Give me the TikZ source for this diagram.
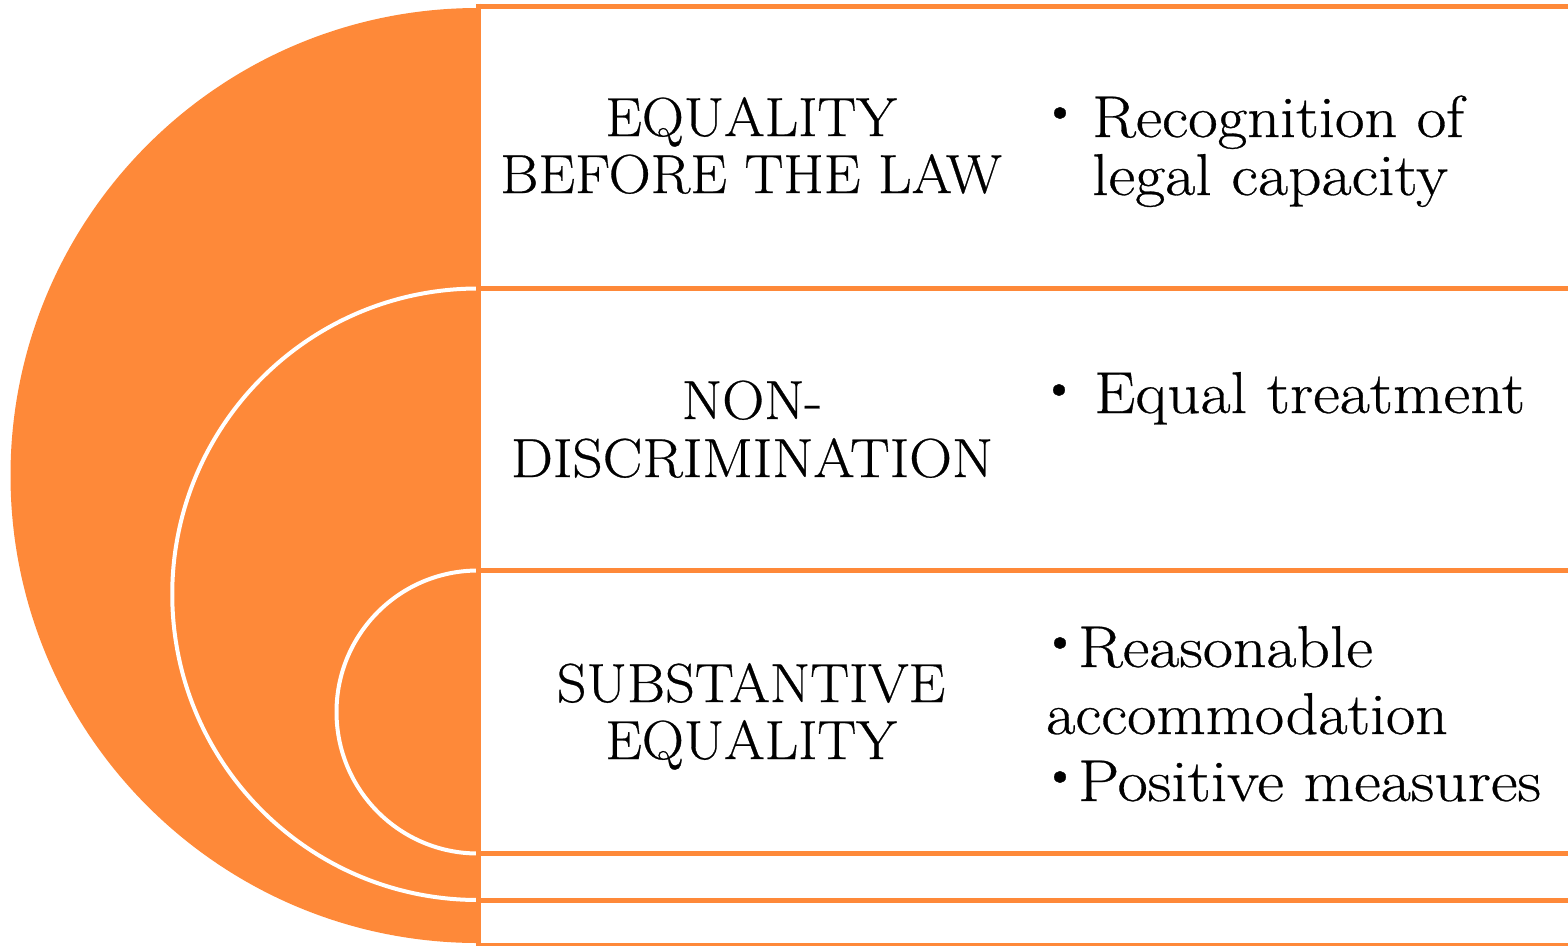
\documentclass[tikz,border=0pt]{standalone}
\usepackage{fontspec}
\newfontfamily\heavyfont{Latin Modern Roman}[FakeBold=0.5]
\definecolor{sorange}{RGB}{254,137,57}
\newcommand\lstr[1]{\scalebox{1.06}[1]{#1}}
\newcommand\rstr[1]{\scalebox{1.11}[1]{#1}}
\tikzset{
  halfdisk/.style={fill=sorange, draw=white, line width=4pt},
  rowline/.style={draw=sorange, line width=5pt},
  lefttxt/.style={anchor=base, inner sep=0pt, font=\heavyfont\fontsize{55}{60}\selectfont},
  righttxt/.style={anchor=base west, inner sep=0pt, font=\heavyfont\fontsize{59}{64}\selectfont},
  bul/.style={inner sep=0pt, font=\heavyfont\fontsize{52}{52}\selectfont}
}
\begin{document}
\begin{tikzpicture}[x=1pt,y=1pt]
\path[use as bounding box] (0,0) rectangle (1568,-945);
% nested half disks
\fill[sorange] (478,-8) arc[start angle=90, end angle=270, radius=467.5] -- cycle;
\path[halfdisk] (478,-288.5) arc[start angle=90, end angle=270, radius=305.75] -- cycle;
\path[halfdisk] (478,-570.5) arc[start angle=90, end angle=270, radius=141.5] -- cycle;
% frame lines
\coordinate (vt) at (478,-3.5);
\coordinate (vb) at (478,-950);
\draw[rowline] (vt) -- (vb);
\foreach \yy/\nm in {6/l0,288.5/l1,570.5/l2,853.5/l3,900/l4,945/l5}{
  \coordinate (\nm a) at (476,-\yy);
  \coordinate (\nm b) at (1575,-\yy);
  \draw[rowline] (\nm a) -- (\nm b);
}
% left column
\node[lefttxt] (t1a) at (751,-136) {\lstr{EQUALITY}};
\node[lefttxt] (t1b) at (751,-193) {\lstr{BEFORE THE LAW}};
\node[lefttxt] (t2a) at (752,-419) {\lstr{NON-}};
\node[lefttxt] (t2b) at (752,-477) {\scalebox{1.08}[1]{DISCRIMINATION}};
\node[lefttxt] (t3a) at (751,-702) {\lstr{SUBSTANTIVE}};
\node[lefttxt] (t3b) at (751,-759) {\lstr{EQUALITY}};
% right column
\node[bul] (b1) at (1060,-117) {\textbullet};
\node[righttxt] (r1a) at (1092,-137) {\scalebox{1.09}[1]{Recognition of}};
\node[righttxt] (r1b) at (1092,-195) {\rstr{legal capacity}};
\node[bul] (b2) at (1059,-394) {\textbullet};
\node[righttxt] (r2a) at (1094,-413) {\rstr{Equal treatment}};
\node[bul] (b3) at (1060,-647) {\textbullet};
\node[righttxt] (r3a) at (1078,-667) {\rstr{Reasonable}};
\node[righttxt] (r3b) at (1046,-734) {\scalebox{1.08}[1]{accommodation}};
\node[bul] (b4) at (1060,-781) {\textbullet};
\node[righttxt] (r3c) at (1078,-801) {\rstr{Positive measures}};
\end{tikzpicture}
\end{document}
